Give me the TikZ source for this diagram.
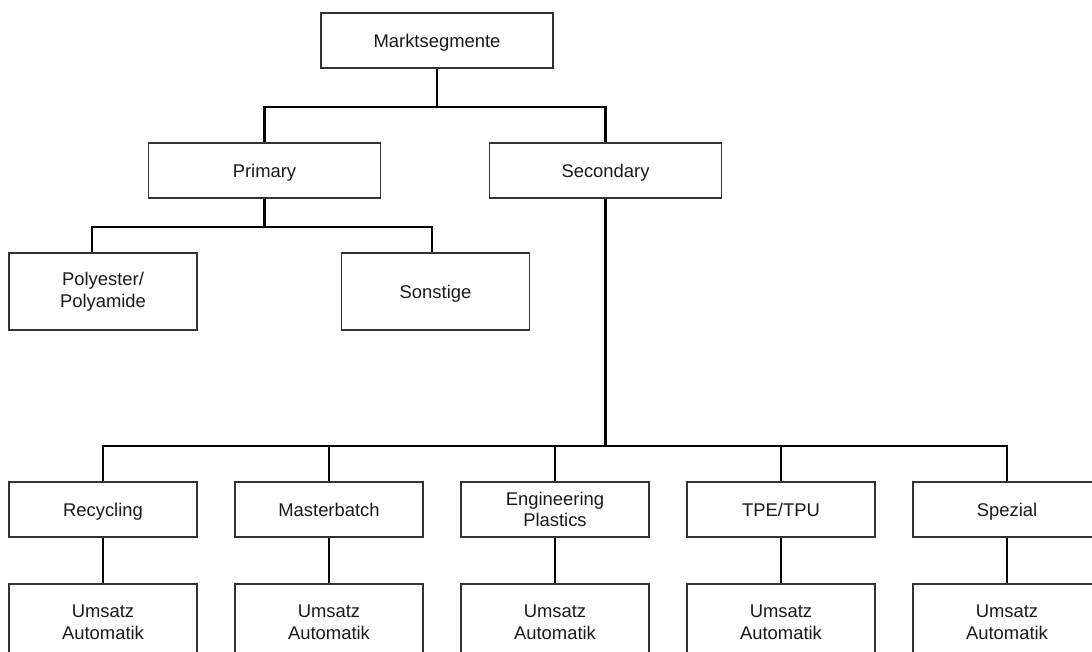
\documentclass[tikz,border=0pt]{standalone}
\usepackage{fontspec}
\setmainfont{Liberation Sans}

\begin{document}
\begin{tikzpicture}[x=1pt, y=-1pt, node distance=226pt, block/.style={rectangle, draw=black!80, line width=1.2pt, minimum width=188pt, minimum height=55pt, align=center, inner sep=4pt, text=black!90, font=\fontsize{18.4}{21.5}\selectfont}, oneline/.style={text height=13.2pt, text depth=0pt}, topblock/.style={block, oneline, minimum width=232pt}, tallblock/.style={block, minimum height=77pt}, link/.style={line width=2.6pt}]
  {
  \useasboundingbox (0,0) rectangle (1092,652);
  \node[topblock] (markt) at (437,40.5) {Marktsegmente};
  \node[topblock] (prim) at (264.5,170.5) {Primary};
  \node[topblock, right of=prim, node distance=341pt] (sec) {Secondary};
  \node[tallblock] (poly) at (103,291.5) {Polyester/\\Polyamide};
  \node[tallblock, oneline, right of=poly, node distance=332.5pt] (sonst) {Sonstige};
  \node[block, oneline] (recyc) at (103,509.5) {Recycling};
  \node[block, oneline, right of=recyc] (master) {Masterbatch};
  \node[block, right of=master] (engin) {Engineering\\Plastics};
  \node[block, oneline, right of=engin] (tpe) {TPE/TPU};
  \node[block, oneline, right of=tpe] (spez) {Spezial};
  \foreach \n in {recyc, master, engin, tpe, spez}
    \node[tallblock, below of=\n, node distance=113pt] (\n-u) {Umsatz\\Automatik};

  \node[coordinate, below of=markt, node distance=66.5pt] (msplit) {};
  \node[coordinate, below of=prim, node distance=56.5pt] (psplit) {};
  \node[coordinate, below of=sec, node distance=275.5pt] (ssplit) {};

  \draw[link] (markt) -- (msplit);
  \draw[link] (prim) |- (msplit) -| (sec);
  \draw[link] (prim) -- (psplit);
  \draw[link] ([xshift=-11pt]poly.north) |- (psplit) -| ([xshift=-3.5pt]sonst.north);
  \draw[link] (sec) -- (ssplit);
  \draw[link] (recyc) |- (ssplit) -| (spez);
  \foreach \n in {master, engin, tpe}
    \draw[link] (\n) |- (ssplit);
  \foreach \n in {recyc, master, engin, tpe, spez}
    \draw[link] (\n) -- (\n-u);
}
\end{tikzpicture}
\end{document}
